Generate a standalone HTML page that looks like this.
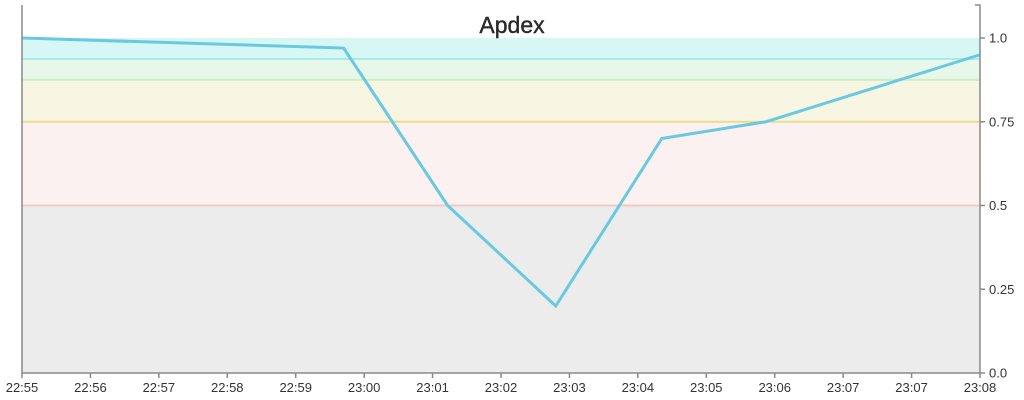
<!DOCTYPE html>
<html><head><meta charset="utf-8"><style>
html,body{margin:0;padding:0;background:#fff;width:1024px;height:400px;overflow:hidden}
text{font-family:"Liberation Sans",sans-serif}
</style></head><body>
<svg id="chart" width="1024" height="400"></svg>
<script>
const xTickLabels=["22:55","22:56","22:57","22:58","22:59","23:00","23:01","23:02","23:03","23:04","23:05","23:06","23:07","23:07","23:08"];
const pointX=[0,4.7,6.22,7.8,9.35,10.87,14];
const pointY=[1.0,0.97,0.5,0.2,0.7,0.75,0.95];
const yTicks=[0,0.25,0.5,0.75,1.0];
const yTickLabels=["0.0","0.25","0.5","0.75","1.0"];
const bandLow=[0,0.5,0.75,0.875,0.9375];
const bandHigh=[0.5,0.75,0.875,0.9375,1.0];
const bandFill=["#ececec","#fbf1f0","#f6f6e2","#e7f7ea","#d7f7f5"];
const bandLine=["#f3c9c6","#e9dc8e","#cdeec7","#a6ede7","none"];

const L=22,R=980,T=5,B=373;
const xs=i=>L+(R-L)*i/14;
const ys=v=>B-(B-38)*v;
const NS="http://www.w3.org/2000/svg";
const svg=document.getElementById('chart');
function mk(t,a){const e=document.createElementNS(NS,t);for(const k in a)e.setAttribute(k,a[k]);svg.appendChild(e);return e;}

for(let i=0;i<bandLow.length;i++){
  const r=mk('rect',{x:L,y:ys(bandHigh[i]),width:R-L,height:ys(bandLow[i])-ys(bandHigh[i]),fill:bandFill[i]});
  
  
}
for(let i=0;i<bandLow.length;i++){
  if(bandLine[i]!=="none"){
    const l=mk('line',{x1:L,x2:R,y1:ys(bandHigh[i]),y2:ys(bandHigh[i]),stroke:bandLine[i],'stroke-width':2});
    
    
  }
}
let d='';
for(let i=0;i<pointX.length;i++)d+=(i?'L':'M')+xs(pointX[i])+','+ys(pointY[i]);
const p=mk('path',{d:d,fill:'none',stroke:'#68c9e1','stroke-width':3,'stroke-linejoin':'miter'});



const la=mk('line',{x1:L,x2:L,y1:T,y2:B,stroke:'#8a8a8a','stroke-width':1.5});


const ra=mk('path',{d:`M${R-5},${T}H${R}V${B}`,fill:'none',stroke:'#8a8a8a','stroke-width':1.5});


const xa=mk('line',{x1:L,x2:R,y1:B,y2:B,stroke:'#8a8a8a','stroke-width':1.5});



for(let i=0;i<yTicks.length;i++){
  const y=ys(yTicks[i]);
  const tk=mk('line',{x1:R,x2:R+5,y1:y,y2:y,stroke:'#8a8a8a','stroke-width':1.5});
  
  
  const t=mk('text',{x:R+9,y:y+4.5,'font-size':13,fill:'#333'});
  t.textContent=yTickLabels[i];
  
  
}
for(let i=0;i<xTickLabels.length;i++){
  const x=xs(i);
  const tk=mk('line',{x1:x,x2:x,y1:B,y2:B+5,stroke:'#8a8a8a','stroke-width':1.5});
  
  
  const t=mk('text',{x:x,y:392,'font-size':13,fill:'#333','text-anchor':'middle'});
  t.textContent=xTickLabels[i];
  
  
}
const title=mk('text',{x:512,y:33,'font-size':23,fill:'#2a2a2a','text-anchor':'middle','stroke':'#2a2a2a','stroke-width':0.4});
title.textContent='Apdex';


</script>
</body></html>
